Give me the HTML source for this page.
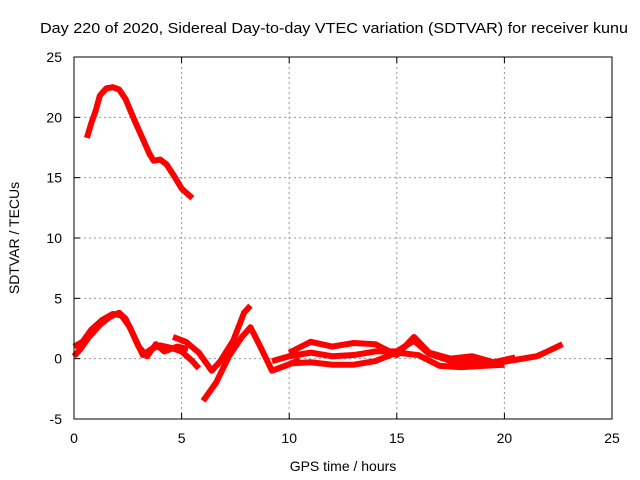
<!DOCTYPE html>
<html><head><meta charset="utf-8"><style>
body{margin:0;background:#fff}
svg{display:block;font-family:"Liberation Sans",sans-serif}
</style></head><body>
<svg id="chart" width="640" height="480">
<text x="40" y="33" font-size="15" textLength="588" lengthAdjust="spacingAndGlyphs">Day 220 of 2020, Sidereal Day-to-day VTEC variation (SDTVAR) for receiver kunu</text>
<text x="343" y="471" text-anchor="middle" font-size="14">GPS time / hours</text>
<text transform="translate(19,238) rotate(-90)" text-anchor="middle" font-size="14">SDTVAR / TECUs</text>
<g id="grid"></g><g id="series"></g>
<rect x="74" y="57" width="538" height="362" fill="none" stroke="#000" stroke-width="1"/>
</svg>
<script>
const xTicks=[0,5,10,15,20,25];
const yTicks=[-5,0,5,10,15,20,25];
const seriesA=[[0.6,18.3],[0.8,19.5],[1.0,20.5],[1.2,21.8],[1.5,22.4],[1.8,22.5],[2.1,22.3],[2.4,21.5],[2.8,19.8],[3.2,18.2],[3.5,17],[3.7,16.4],[4.0,16.5],[4.3,16.1],[4.7,15.0],[5.0,14.1],[5.5,13.3]];
const seriesB=[[0,0.2],[0.3,0.8],[0.7,1.8],[1.2,2.8],[1.7,3.5],[2.1,3.8],[2.4,3.3],[2.8,1.8],[3.2,0.3],[3.6,0.8],[4.0,1.1],[4.5,0.9],[5.0,0.6],[5.5,-0.2],[5.8,-0.8]];
const seriesB2=[[0,1.0],[0.4,1.4],[0.8,2.4],[1.3,3.2],[1.8,3.7],[2.2,3.6],[2.6,2.6],[3.0,1.0],[3.4,0.2],[3.8,1.2],[4.2,0.6],[4.8,1.0],[5.3,0.8]];
const seriesC=[[4.6,1.8],[5.2,1.4],[5.8,0.5],[6.4,-1.0],[6.8,-0.2],[7.4,1.5],[7.9,3.8],[8.2,4.4]];
const seriesD=[[6.0,-3.5],[6.6,-2.0],[7.2,0.2],[7.8,1.8],[8.2,2.6],[8.6,1.2],[9.2,-1.0],[9.8,-0.6],[10.5,-0.1]];
const seriesE=[[9.2,-0.2],[10,0.2],[11,0.5],[12,0.2],[13,0.3],[14,0.6],[15,0.6],[15.8,1.5],[16.5,0.4],[17.5,-0.2],[18.5,-0.3],[19.5,-0.4],[20.5,-0.1],[21.5,0.2],[22,0.6],[22.7,1.2]];
const seriesF=[[10,0.5],[11,1.4],[12,1.0],[13,1.3],[14,1.2],[15,0.3],[15.8,1.8],[16.5,0.5],[17.5,0.0],[18.5,0.2],[19.5,-0.3],[20.5,0.1]];
const seriesG=[[10,-0.4],[11,-0.3],[12,-0.5],[13,-0.5],[14,-0.2],[15,0.5],[16,0.3],[17,-0.6],[18,-0.7],[19,-0.6],[20,-0.5]];
const allSeries=[seriesA,seriesB,seriesB2,seriesC,seriesD,seriesE,seriesF,seriesG];
const L=74,R=612,T=57,B=419;
const sx=v=>L+(v-0)/(25-0)*(R-L);
const sy=v=>B-(v+5)/(30)*(B-T);
const NS="http://www.w3.org/2000/svg";
const grid=document.getElementById('grid'),ser=document.getElementById('series');
function mk(tag,attrs,parent){const e=document.createElementNS(NS,tag);for(const k in attrs)e.setAttribute(k,attrs[k]);parent.appendChild(e);return e;}
xTicks.forEach(t=>{
  const x=sx(t);
  if(t>0&&t<25){const g=mk('line',{x1:x,x2:x,y1:T,y2:B,stroke:'#999','stroke-dasharray':'2,3'},grid);
  
  }
  mk('line',{x1:x,x2:x,y1:B,y2:B-6,stroke:'#000'},grid);
  mk('line',{x1:x,x2:x,y1:T,y2:T+6,stroke:'#000'},grid);
  const l=mk('text',{x:x,y:B+24,'text-anchor':'middle','font-size':14},grid);l.textContent=t;
  
  
});
yTicks.forEach(t=>{
  const y=sy(t);
  if(t>-5&&t<25){const g=mk('line',{x1:L,x2:R,y1:y,y2:y,stroke:'#999','stroke-dasharray':'2,3'},grid);
  
  }
  mk('line',{x1:L,x2:L+6,y1:y,y2:y,stroke:'#000'},grid);
  mk('line',{x1:R,x2:R-6,y1:y,y2:y,stroke:'#000'},grid);
  const l=mk('text',{x:L-12,y:y+5,'text-anchor':'end','font-size':14},grid);l.textContent=t;
  
  
});
allSeries.forEach((s,i)=>{
  const p=mk('polyline',{points:s.map(d=>sx(d[0])+','+sy(d[1])).join(' '),fill:'none',stroke:'#f00','stroke-width':6,'stroke-linejoin':'round'},ser);
  
  
});
</script>
</body></html>
